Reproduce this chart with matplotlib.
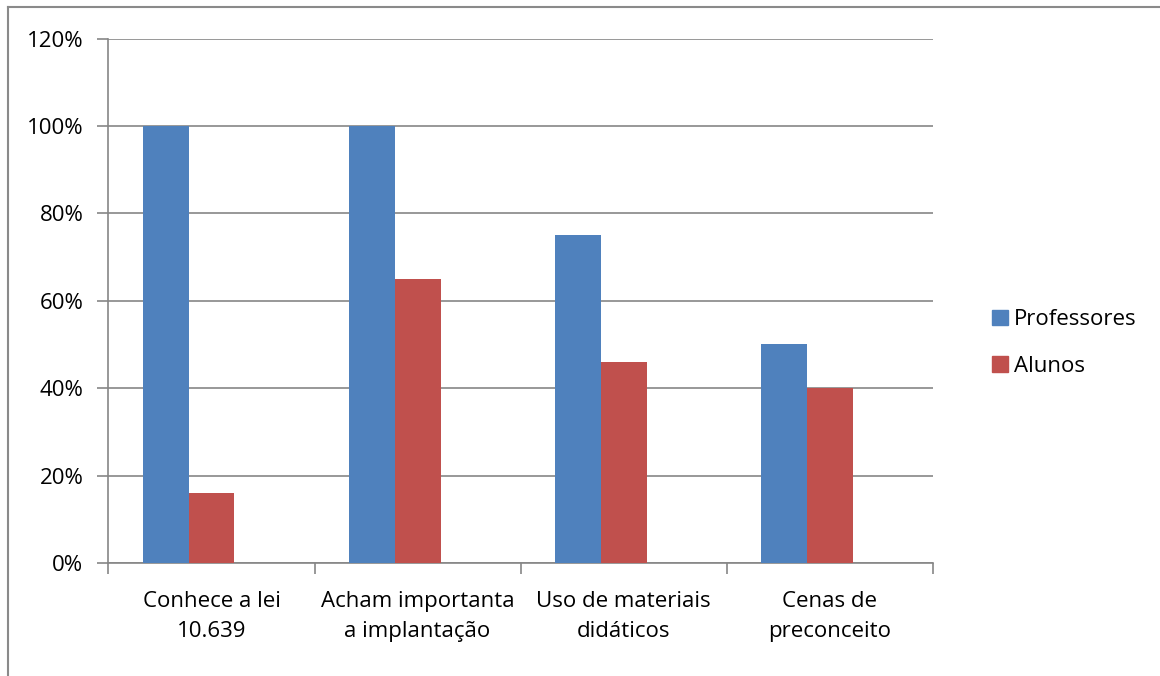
import matplotlib.pyplot as plt
from matplotlib.lines import Line2D
from matplotlib.patches import Patch
import numpy as np

# data (percent)
categorias = ['Conhece a lei\n10.639', 'Acham importanta\na implantação',
              'Uso de materiais\ndidáticos', 'Cenas de\npreconceito']
professores = [100, 100, 75, 50]
alunos = [16, 65, 46, 40]
series_nomes = ['Professores', 'Alunos']

azul = '#4F81BD'
vermelho = '#C0504D'
cinza = '#868686'

plt.rcParams['font.family'] = ['Open Sans', 'DejaVu Sans']
plt.rcParams['font.size'] = 16

fig = plt.figure(figsize=(11.6, 6.76), dpi=100)
ax = fig.add_axes([0.0935, 0.1672, 0.7105, 0.7758])

x = np.arange(len(categorias))
w = 0.223  # excel leaves room for a third (empty) series
ax.bar(x - w, professores, w, align='center', color=azul, zorder=3)
ax.bar(x, alunos, w, align='center', color=vermelho, zorder=3)

ax.set_xlim(-0.5, len(categorias) - 0.5)
ax.set_ylim(0, 120)
ax.set_yticks(range(0, 121, 20))
ax.set_yticklabels([f'{v}%' for v in range(0, 121, 20)])
ax.yaxis.grid(True, color=cinza, lw=1.2, zorder=0)

# category labels at centers, ticks on the boundaries
ax.set_xticks(x)
ax.set_xticklabels(categorias, linespacing=1.6)
ax.set_xticks(np.arange(-0.5, len(categorias), 1), minor=True)
ax.tick_params(axis='x', which='major', length=0, pad=20)
ax.tick_params(axis='x', which='minor', length=8, color=cinza, width=1.2)
ax.tick_params(axis='y', length=8, color=cinza, width=1.2, pad=10)

for s in ['top', 'right']:
    ax.spines[s].set_visible(False)
for s in ['left', 'bottom']:
    ax.spines[s].set_color(cinza)
    ax.spines[s].set_linewidth(1.2)

handles = [Patch(color=azul), Patch(color=vermelho)]
fig.legend(handles, series_nomes, loc='center left', bbox_to_anchor=(0.838, 0.4926),
           frameon=False, handlelength=0.7, handleheight=0.7, handletextpad=0.3,
           labelspacing=1.15, fontsize=16)

# outer chart border (only top and left visible in the crop)
fig.add_artist(Line2D([7.5 / 1160, 1], [1 - 6.5 / 676] * 2, color='#8a8a8a', lw=1.5,
                      transform=fig.transFigure))
fig.add_artist(Line2D([7.5 / 1160] * 2, [0, 1 - 6.5 / 676], color='#8a8a8a', lw=1.5,
                      transform=fig.transFigure))

fig.savefig('out.png', dpi=100)
